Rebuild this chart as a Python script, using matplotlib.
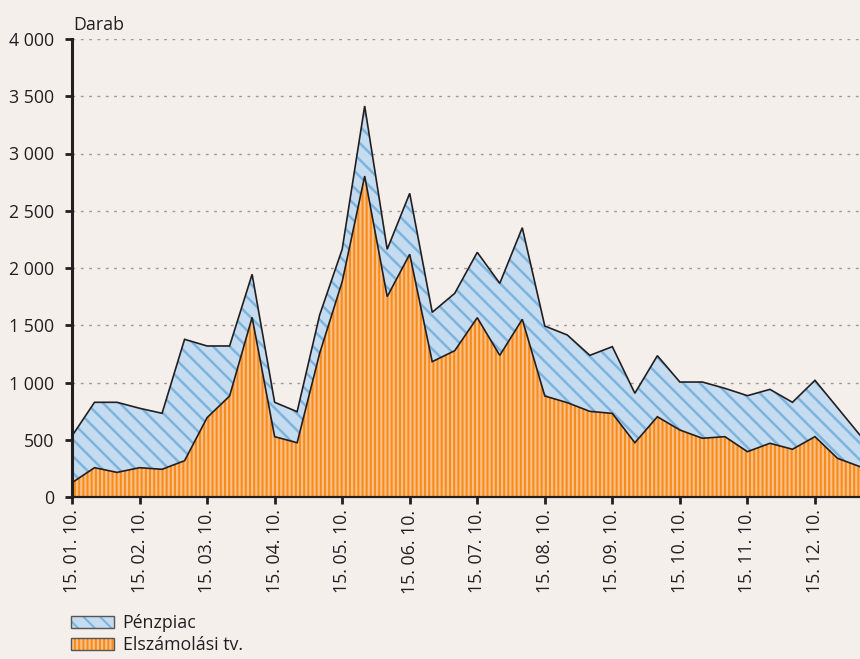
import matplotlib
matplotlib.use("Agg")
import matplotlib.pyplot as plt
from matplotlib.patches import Patch
from matplotlib.legend_handler import HandlerTuple
import numpy as np

plt.rcParams['font.family'] = ['Open Sans', 'DejaVu Sans']

tick_labels = ["15. 01. 10.", "15. 02. 10.", "15. 03. 10.", "15. 04. 10.",
               "15. 05. 10.", "15. 06. 10.", "15. 07. 10.", "15. 08. 10.",
               "15. 09. 10.", "15. 10. 10.", "15. 11. 10.", "15. 12. 10."]
elszamolasi = [125, 256, 215, 256, 242, 317, 693, 882, 1569, 527, 474, 1255,
               1880, 2803, 1750, 2120, 1182, 1278, 1566, 1237, 1552, 882,
               824, 748, 730, 474, 701, 585, 513, 527, 396, 469, 417, 527,
               338, 265]
penzpiac = [408, 571, 612, 519, 489, 1060, 626, 437, 376, 300, 271, 335,
            283, 612, 413, 532, 431, 501, 571, 629, 800, 611, 591, 489,
            583, 432, 533, 419, 491, 422, 489, 471, 410, 492, 442, 275]
y_ticks = [0, 500, 1000, 1500, 2000, 2500, 3000, 3500, 4000]
y_tick_labels = ["0", "500", "1 000", "1 500", "2 000", "2 500", "3 000", "3 500", "4 000"]

bg = "#F5EFEC"
orange = "#F78C1A"
orange_light = "#FBC08A"
blue = "#C5DCF0"
blue_line = "#7DB4DE"
dark = "#231F20"

x = np.arange(len(elszamolasi))
e = np.array(elszamolasi, dtype=float)
total = e + np.array(penzpiac, dtype=float)

fig = plt.figure(figsize=(8.6, 6.59), dpi=100, facecolor=bg)
ax = fig.add_axes([72/860, 1-497/659, 1-72/860, (497-39)/659])
ax.set_facecolor(bg)

plt.rcParams['hatch.linewidth'] = 1.8
ax.fill_between(x, e, total, facecolor=blue, edgecolor=blue_line, hatch='\\\\', linewidth=0, zorder=2)
plt.rcParams['hatch.linewidth'] = 1.5
ax.fill_between(x, 0, e, facecolor=orange, edgecolor=orange_light, hatch='||||', linewidth=0, zorder=2)
ax.plot(x, total, color=dark, lw=1.2, zorder=3, solid_joinstyle='miter')
ax.plot(x, e, color=dark, lw=1.2, zorder=3, solid_joinstyle='miter')

ax.set_xlim(0, len(x) - 1)
ax.set_ylim(0, 4000)
ax.set_yticks(y_ticks)
ax.set_yticklabels(y_tick_labels)
ax.set_xticks(np.arange(0, len(x), 3)[:len(tick_labels)])
ax.set_xticklabels(tick_labels, rotation=90)

ax.yaxis.grid(True, linestyle=(0, (2, 4)), color="#9A9A9A", lw=1.0, zorder=1)
ax.set_axisbelow(True)

for s in ["top", "right"]:
    ax.spines[s].set_visible(False)
ax.spines["left"].set_linewidth(2.2)
ax.spines["left"].set_color(dark)
ax.spines["bottom"].set_linewidth(1.6)
ax.spines["bottom"].set_color(dark)
ax.spines["left"].set_zorder(4)
ax.spines["bottom"].set_zorder(4)

ax.tick_params(axis='y', direction='out', length=5, width=2, color=dark,
               labelsize=12.8, labelcolor=dark, pad=8)
ax.tick_params(axis='x', direction='out', length=5, width=2, color=dark,
               labelsize=12.8, labelcolor=dark, pad=4)

fig.text(72/860 + 0.002, 1-30/659, "Darab", fontsize=12.8, color=dark,
         ha='left', va='baseline')

h1 = (Patch(facecolor=blue, edgecolor=blue_line, hatch='\\\\', linewidth=0),
      Patch(facecolor='none', edgecolor='#555555', linewidth=1.0))
h2 = (Patch(facecolor=orange, edgecolor=orange_light, hatch='||||', linewidth=0),
      Patch(facecolor='none', edgecolor='#555555', linewidth=1.0))
leg = fig.legend([h1, h2], ["Pénzpiac", "Elszámolási tv."], loc='upper left',
                 bbox_to_anchor=(71/860, 1-614/659), frameon=False,
                 fontsize=12.8, handlelength=2.4, handleheight=0.65,
                 handletextpad=0.5, labelspacing=0.25, borderaxespad=0,
                 borderpad=0,
                 handler_map={tuple: HandlerTuple(ndivide=1, pad=0)})
for t in leg.get_texts():
    t.set_color(dark)

fig.savefig("out.png", dpi=100, facecolor=bg)
